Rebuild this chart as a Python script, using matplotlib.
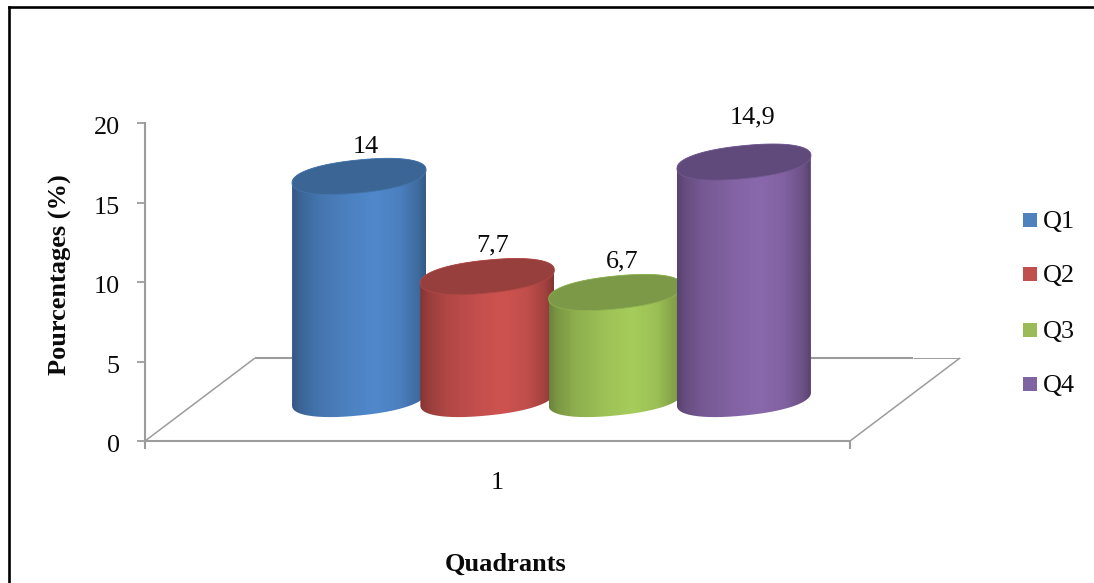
import numpy as np
import matplotlib
matplotlib.use("Agg")
import matplotlib.pyplot as plt
from matplotlib.colors import to_rgb
from matplotlib.lines import Line2D
from matplotlib.patches import PathPatch, Rectangle
from matplotlib.path import Path
from matplotlib.transforms import ScaledTranslation

# Chart data
quadrants = ["Q1", "Q2", "Q3", "Q4"]
percentages = [14, 7.7, 6.7, 14.9]
value_labels = ["14", "7,7", "6,7", "14,9"]
y_ticks = [0, 5, 10, 15, 20]
y_limits = (0, 20)
category_label = "1"
x_title = "Quadrants"
y_title = "Pourcentages (%)"

# Fill colours of each cylinder: centre of the body, and top cap
body_colors = ["#5088cb", "#cd5350", "#a6cc5b", "#8a68ac"]
cap_colors = ["#3b6595", "#973f3c", "#7b9947", "#604a7c"]
legend_colors = ["#4f81bd", "#c0504d", "#9bbb59", "#8064a2"]
axis_gray = "#9c9c9c"
text_color = "#0a0a0a"
font_size = 18.8

W, H = 1094, 583
plt.rcParams["font.family"] = ["Liberation Serif", "DejaVu Serif"]
fig = plt.figure(figsize=(W / 100, H / 100), dpi=100, facecolor="white")

# Plot box in pixel terms: x 145..850, y 123..441
ax = fig.add_axes([145 / W, 1 - 441 / H, 705 / W, 318 / H])
ax.set_xlim(0.5, 1.5)
ax.set_ylim(*y_limits)
ax.patch.set_alpha(0)

px = 1 / 705              # one pixel along x, in data units
py = 20 / 318             # one pixel along y, in data units
depth_x, depth_y = 110 * px, 83 * py   # receding floor edge
slot = 128.3 * px
half_w = 67 * px
tilt = 6.5 * py
minor = 16.5 * py
base_y = 42 * py
center_x = 1 + 54 * px + (np.arange(4) - 1.5) * slot


def ellipse(cx, cy, t, p=0.9):
    """Slightly squared, sheared ellipse used for the cylinder ends."""
    c = np.sign(np.cos(t)) * np.abs(np.cos(t)) ** p
    s = np.sign(np.sin(t)) * np.abs(np.sin(t)) ** p
    return cx + half_w * c, cy + tilt * c + minor * s


# Floor of the 3D box
floor = dict(color=axis_gray, clip_on=False, solid_capstyle="butt", zorder=1)
ax.plot([0.5, 0.5 + depth_x], [0, depth_y], lw=1.1, **floor)
ax.plot([1.5, 1.5 + depth_x], [0, depth_y], lw=1.1, **floor)
ax.plot([0.5 + depth_x, 913 * px + 0.5 - 145 * px], [depth_y, depth_y], lw=1.5, **floor)
ax.plot([913 * px + 0.5 - 145 * px, 1.5 + depth_x], [depth_y, depth_y], lw=0.7, **floor)

# Shading across the width of a cylinder
u = np.linspace(0, 1, 256)
shade = np.interp(u, [0, 0.06, 0.2, 0.45, 0.62, 0.8, 0.94, 1],
                  [0.64, 0.74, 0.86, 0.96, 1.0, 0.94, 0.78, 0.64])

for i, value in enumerate(percentages):
    cx = center_x[i]
    top = base_y + value
    lower = np.linspace(np.pi, 2 * np.pi, 120)
    upper = np.linspace(0, np.pi, 120)
    bx, by = ellipse(cx, base_y, lower)
    tx, ty = ellipse(cx, top, upper)
    outline = np.column_stack([np.r_[bx, tx], np.r_[by, ty]])
    clip = PathPatch(Path(np.vstack([outline, outline[0]])), transform=ax.transData,
                     facecolor="none", edgecolor="none")
    ax.add_patch(clip)

    rgb = np.array(to_rgb(body_colors[i]))
    strip = (shade[:, None] * rgb)[None, :, :]
    img = ax.imshow(strip, extent=[cx - half_w, cx + half_w, base_y - 2, top + 2],
                    aspect="auto", zorder=3 + i, interpolation="bilinear")
    img.set_clip_path(clip)

    cap_t = np.linspace(0, 2 * np.pi, 240)
    ex, ey = ellipse(cx, top, cap_t)
    rim = 0.55 * np.array(to_rgb(cap_colors[i])) + 0.45 * rgb
    ax.fill(ex, ey, facecolor=cap_colors[i], edgecolor=rim, lw=0.6, zorder=3 + i)

# Value labels, with baselines set above the caps
label_dx = np.array([7, 5.5, 6.5, 8.5]) * px
label_dy = np.array([23, 25, 25.5, 39]) * py
for i, value in enumerate(percentages):
    ax.text(center_x[i] + label_dx[i], base_y + value + label_dy[i], value_labels[i],
            ha="center", va="baseline", fontsize=font_size, color=text_color, zorder=10)

ax.set_xlim(0.5, 1.5)
ax.set_ylim(*y_limits)

# Axes and ticks
for side in ("top", "right"):
    ax.spines[side].set_visible(False)
for side in ("left", "bottom"):
    ax.spines[side].set_color(axis_gray)
    ax.spines[side].set_linewidth(1.5)
    ax.spines[side].set_zorder(2)
ax.set_yticks(y_ticks)
ax.tick_params(axis="y", length=5.8, width=1.3, color=axis_gray, labelsize=font_size, pad=12.5,
               labelcolor=text_color)
shift = ScaledTranslation(0, -2 / 72, fig.dpi_scale_trans)
for tick_label in ax.get_yticklabels():
    tick_label.set_transform(tick_label.get_transform() + shift)
ax.set_xticks([1], [category_label])
ax.tick_params(axis="x", which="major", length=0, labelsize=font_size, pad=22.5, labelcolor=text_color)
ax.set_xticks([0.5, 1.5], minor=True)
ax.tick_params(axis="x", which="minor", length=6, width=1.5, color=axis_gray)

ax.set_ylabel(y_title, fontsize=19, fontweight="bold", color=text_color)
ax.yaxis.set_label_coords(-73 / 705, (441 - 275) / 318)
ax.set_xlabel(x_title, fontsize=19, fontweight="bold", color=text_color)
ax.xaxis.set_label_coords((506 - 145) / 705, -(564 - 441) / 318)
ax.xaxis.label.set_va("center")

# Legend entries
legend_ax = fig.add_axes([0, 0, 1, 1])
legend_ax.set_xlim(0, W)
legend_ax.set_ylim(H, 0)
legend_ax.axis("off")
for name, color, ytop in zip(quadrants, legend_colors, [213, 267, 322.5, 377]):
    legend_ax.add_patch(Rectangle((1023, ytop), 14, 14, facecolor=color, edgecolor="none"))
    legend_ax.text(1043, ytop + 15, name, fontsize=font_size, va="baseline", ha="left", color=text_color)

# Black border around the chart area
border = dict(color="black", lw=1.9, solid_capstyle="projecting", transform=legend_ax.transData)
fig.add_artist(Line2D([9, 9], [7, H], **border))
fig.add_artist(Line2D([9, W], [7, 7], **border))

fig.savefig("out.png", dpi=100, facecolor="white")
